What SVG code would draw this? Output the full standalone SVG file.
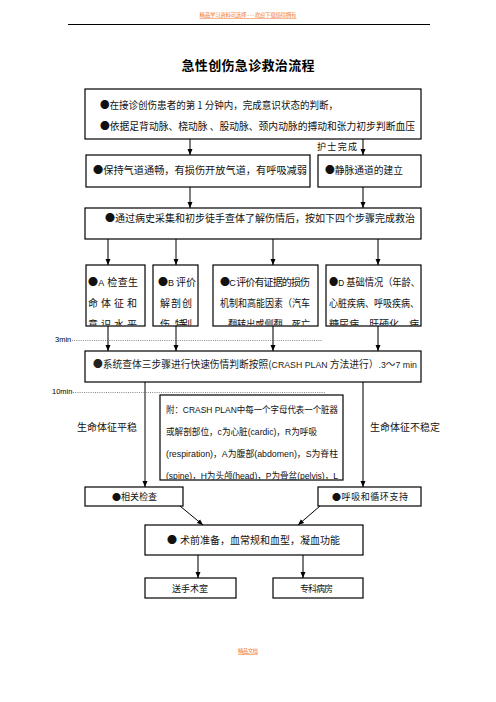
<svg xmlns="http://www.w3.org/2000/svg" width="496" height="702" viewBox="0 0 496 702">
<style>
.box{fill:#fff;stroke:#000;stroke-width:1.2}
.t{font-family:"Noto Sans CJK SC","Liberation Serif",serif;font-size:10px;fill:#111}
.s{font-family:"Liberation Sans","Noto Sans CJK SC",sans-serif;font-size:9px;fill:#111}
.L{font-family:"Liberation Sans",sans-serif;font-size:9px}
.k{stroke:#000;stroke-width:1;fill:none}
.g{stroke:#7a7a7a;stroke-width:2;fill:none}
.dot{stroke:#555;stroke-width:0.7;stroke-dasharray:1 1.2}
.wm{font-family:"Noto Sans CJK SC",sans-serif;font-size:5.5px;fill:#f08040}
</style>
<defs>
<marker id="ah" markerUnits="userSpaceOnUse" markerWidth="6" markerHeight="6" viewBox="0 0 6 6" refX="6" refY="3" orient="auto">
<path d="M0,0.5 L6,3 L0,5.5 z" fill="#000"/>
</marker>
<clipPath id="c4"><rect x="0" y="265" width="496" height="60.5"/></clipPath>
<clipPath id="cc"><rect x="0" y="395" width="496" height="84.5"/></clipPath>
</defs>

<g id="header">
<text class="wm" x="248" y="17" text-anchor="middle" textLength="97" text-decoration="underline">精品学习资料可选择 - - - 欢迎下载值得拥有</text>
<line x1="68" y1="24.5" x2="430" y2="24.5" stroke="#000" stroke-width="1"/>
</g>

<g id="title">
<text x="248" y="70" text-anchor="middle" textLength="133" style="font-family:'Noto Sans CJK SC',sans-serif;font-size:13px;font-weight:bold;fill:#000">急性创伤急诊救治流程</text>
</g>

<g id="connectors">
<line class="k" x1="190" y1="139" x2="190" y2="155" marker-end="url(#ah)"/>
<line class="g" x1="363" y1="139" x2="363" y2="155" marker-end="url(#ah)"/>
<line class="k" x1="190" y1="187" x2="190" y2="208" marker-end="url(#ah)"/>
<line class="g" x1="363" y1="187" x2="363" y2="208" marker-end="url(#ah)"/>
<line class="g" x1="108" y1="239" x2="108" y2="265" marker-end="url(#ah)"/>
<line class="k" x1="176" y1="239" x2="176" y2="265" marker-end="url(#ah)"/>
<line class="g" x1="273" y1="239" x2="273" y2="265" marker-end="url(#ah)"/>
<line class="g" x1="378" y1="239" x2="378" y2="265" marker-end="url(#ah)"/>
<line class="g" x1="108" y1="326" x2="108" y2="351" marker-end="url(#ah)"/>
<line class="k" x1="176" y1="326" x2="176" y2="351" marker-end="url(#ah)"/>
<line class="g" x1="273" y1="326" x2="273" y2="351" marker-end="url(#ah)"/>
<line class="g" x1="378" y1="326" x2="378" y2="351" marker-end="url(#ah)"/>
<line class="k" x1="145" y1="382" x2="145" y2="487" marker-end="url(#ah)"/>
<line class="g" x1="363" y1="382" x2="363" y2="487" marker-end="url(#ah)"/>
<line class="k" x1="180" y1="506" x2="203" y2="525" marker-end="url(#ah)"/>
<line class="k" x1="320" y1="506" x2="298" y2="525" marker-end="url(#ah)"/>
<line class="g" x1="198" y1="555" x2="198" y2="578" marker-end="url(#ah)"/>
<line class="g" x1="303" y1="555" x2="303" y2="578" marker-end="url(#ah)"/>
</g>

<g id="timeline">
<text x="55" y="342" style="font-family:'Liberation Sans',sans-serif;font-size:7.5px;fill:#000">3min</text>
<line class="dot" x1="72" y1="340.5" x2="322" y2="340.5"/>
<text x="52" y="394" style="font-family:'Liberation Sans',sans-serif;font-size:7.5px;fill:#000">10min</text>
<line class="dot" x1="73" y1="392.5" x2="325" y2="392.5"/>
</g>

<g id="n1">
<rect class="box" x="85" y="89" width="336" height="50"/>
<text class="t" x="100" y="109" textLength="238" lengthAdjust="spacingAndGlyphs">●在接诊创伤患者的第 1 分钟内，完成意识状态的判断，</text>
<text class="t" x="100" y="130" textLength="315" lengthAdjust="spacingAndGlyphs">●依据足背动脉、桡动脉 、股动脉、颈内动脉的搏动和张力初步判断血压</text>
</g>

<g id="nurse">
<text class="t" x="317" y="150" textLength="40" style="font-size:9px">护士完成</text>
</g>

<g id="n2a">
<rect class="box" x="86" y="155" width="224" height="32"/>
<text class="t" x="93" y="174" textLength="214" lengthAdjust="spacingAndGlyphs">●保持气道通畅，有损伤开放气道，有呼吸减弱</text>
</g>

<g id="n2b">
<rect class="box" x="318" y="155" width="103" height="32"/>
<text class="t" x="325" y="174" textLength="78" lengthAdjust="spacingAndGlyphs">●静脉通道的建立</text>
</g>

<g id="n3">
<rect class="box" x="85" y="208" width="336" height="31"/>
<text class="t" x="105" y="222" textLength="310" lengthAdjust="spacingAndGlyphs">●通过病史采集和初步徒手查体了解伤情后，按如下四个步骤完成救治</text>
</g>

<g id="nA">
<rect class="box" x="86" y="265" width="59" height="61"/>
<g clip-path="url(#c4)">
<text class="t" x="88" y="286" textLength="50">●<tspan class="L">A</tspan> 检查生</text>
<text class="t" x="88" y="307" textLength="49">命体征和</text>
<text class="t" x="88" y="328" textLength="49">意识水平</text>
</g>
</g>

<g id="nB">
<rect class="box" x="153" y="265" width="45" height="61"/>
<g clip-path="url(#c4)">
<text class="t" x="158" y="286" textLength="38">●<tspan class="L">B</tspan> 评价</text>
<text class="t" x="160" y="307" textLength="32">解剖创</text>
<text class="t" x="160" y="328" textLength="32">伤、特别</text>
</g>
</g>

<g id="nC">
<rect class="box" x="213" y="265" width="105" height="61"/>
<g clip-path="url(#c4)">
<text class="t" x="220" y="286" textLength="90">●<tspan class="L">C</tspan> 评价有证据的损伤</text>
<text class="t" x="220" y="307" textLength="90" lengthAdjust="spacingAndGlyphs">机制和高能因素（汽车</text>
<text class="t" x="228" y="328" textLength="82" lengthAdjust="spacingAndGlyphs">翻转出或侧翻、死亡</text>
</g>
</g>

<g id="nD">
<rect class="box" x="326" y="265" width="95" height="61"/>
<g clip-path="url(#c4)">
<text class="t" x="329" y="286" textLength="91" lengthAdjust="spacingAndGlyphs">●<tspan class="L">D</tspan> 基础情况（年龄、</text>
<text class="t" x="329" y="307" textLength="90" lengthAdjust="spacingAndGlyphs">心脏疾病、呼吸疾病、</text>
<text class="t" x="329" y="328" textLength="90">糖尿病、肝硬化、病</text>
</g>
</g>

<g id="n4">
<rect class="box" x="85" y="351" width="336" height="31"/>
<text class="t" x="93" y="368" textLength="324" lengthAdjust="spacingAndGlyphs" style="fill:#222">●系统查体三步骤进行快速伤情判断按照(<tspan class="L">CRASH PLAN</tspan> 方法进行）<tspan class="L">.3</tspan>～<tspan class="L">7 min</tspan></text>
</g>

<g id="stable">
<text class="t" x="77" y="431" textLength="60">生命体征平稳</text>
</g>
<g id="unstable">
<text class="t" x="370" y="431" textLength="70">生命体征不稳定</text>
</g>

<g id="crash">
<rect class="box" x="160" y="395" width="183" height="85"/>
<g clip-path="url(#cc)">
<text class="s" x="166" y="413" textLength="172" lengthAdjust="spacingAndGlyphs">附：CRASH PLAN中每一个字母代表一个脏器</text>
<text class="s" x="166" y="435" textLength="151" lengthAdjust="spacingAndGlyphs">或解剖部位，c为心脏(cardic)，R为呼吸</text>
<text class="s" x="166" y="457" textLength="172" lengthAdjust="spacingAndGlyphs">(respiration)，A为腹部(abdomen)，S为脊柱</text>
<text class="s" x="166" y="479" textLength="172" lengthAdjust="spacingAndGlyphs">(spine)，H为头颅(head)，P为骨盆(pelvis)，L</text>
</g>
</g>

<g id="n5a">
<rect class="box" x="85" y="487" width="98" height="19"/>
<text class="t" x="112" y="500" textLength="45" style="font-size:9px">●相关检查</text>
</g>

<g id="n5b">
<rect class="box" x="318" y="487" width="103" height="19"/>
<text class="t" x="332" y="500" textLength="76" style="font-size:9px">●呼吸和循环支持</text>
</g>

<g id="n6">
<rect class="box" x="145" y="525" width="218" height="30"/>
<text class="t" x="167" y="544">●</text>
<text class="t" x="180" y="544" textLength="160">术前准备，血常规和血型，凝血功能</text>
</g>

<g id="n7a">
<rect class="box" x="145" y="578" width="91" height="20"/>
<text class="t" x="172" y="592" textLength="36" style="font-size:9px">送手术室</text>
</g>

<g id="n7b">
<rect class="box" x="273" y="578" width="90" height="20"/>
<text class="t" x="300" y="592" textLength="33" style="font-size:9px">专科病房</text>
</g>

<g id="footer">
<text class="wm" x="248" y="653" text-anchor="middle" textLength="20" text-decoration="underline">精品文档</text>
</g>
</svg>
